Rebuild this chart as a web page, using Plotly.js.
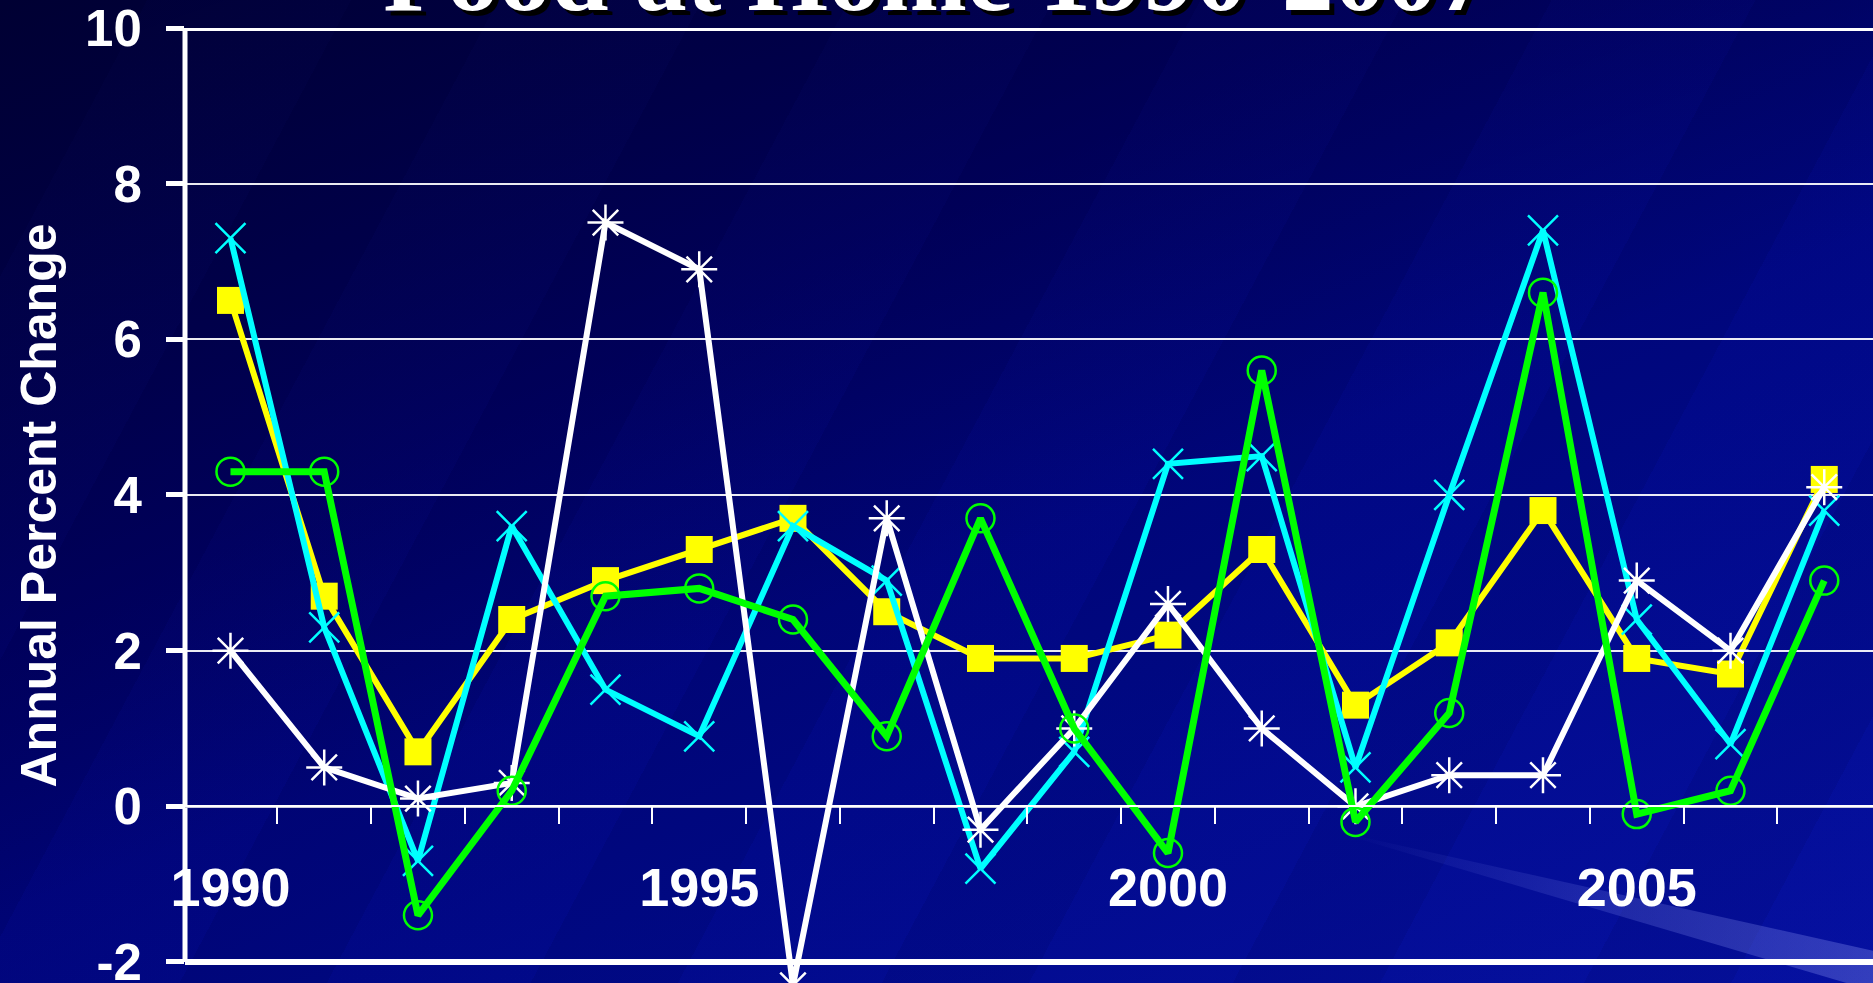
<!DOCTYPE html>
<html>
<head>
<meta charset="utf-8">
<script src="https://cdn.plot.ly/plotly-3.0.1.min.js"></script>
<style>
  html, body { margin: 0; padding: 0; width: 1873px; height: 983px; overflow: hidden; }
  body {
    position: relative;
    background:
      linear-gradient(160deg, rgba(0,0,30,0.55) 0%, rgba(0,0,30,0.25) 30%, rgba(0,0,0,0) 55%),
      repeating-linear-gradient(118deg, rgba(0,0,30,0.06) 0px, rgba(0,0,30,0.06) 130px, rgba(30,40,190,0.035) 130px, rgba(30,40,190,0.035) 310px),
      linear-gradient(155deg, #000050 0%, #00006c 35%, #000887 65%, #0510a0 100%);
  }
  #streak {
    position: absolute; left: 1345px; top: 812px; width: 620px; height: 44px;
    transform: rotate(14.5deg); transform-origin: left center;
    background: linear-gradient(to right, rgba(130,140,240,0) 0%, rgba(130,140,240,0.22) 45%, rgba(150,160,250,0.35) 100%);
    clip-path: polygon(0% 48%, 100% 0%, 100% 100%, 0% 52%);
  }
  #chart { position: absolute; left: 0; top: 0; width: 1873px; height: 983px; }
</style>
</head>
<body>
<div id="streak"></div>
<div id="chart"></div>
<script>
const years = [1990, 1991, 1992, 1993, 1994, 1995, 1996, 1997, 1998, 1999, 2000, 2001, 2002, 2003, 2004, 2005, 2006, 2007];
const yellowSeries = [6.5, 2.7, 0.7, 2.4, 2.9, 3.3, 3.7, 2.5, 1.9, 1.9, 2.2, 3.3, 1.3, 2.1, 3.8, 1.9, 1.7, 4.2];
const cyanSeries   = [7.3, 2.3, -0.7, 3.6, 1.5, 0.9, 3.6, 2.9, -0.8, 0.7, 4.4, 4.5, 0.5, 4.0, 7.4, 2.4, 0.8, 3.8];
const whiteSeries  = [2.0, 0.5, 0.1, 0.3, 7.5, 6.9, -2.3, 3.7, -0.3, 1.0, 2.6, 1.0, 0.0, 0.4, 0.4, 2.9, 2.0, 4.1];
const greenSeries  = [4.3, 4.3, -1.4, 0.2, 2.7, 2.8, 2.4, 0.9, 3.7, 1.0, -0.6, 5.6, -0.2, 1.2, 6.6, -0.1, 0.2, 2.9];
const xTickVals = [1990, 1995, 2000, 2005];
const xTickText = ['1990', '1995', '2000', '2005'];
const xMinorTickVals = [1990.5, 1991.5, 1992.5, 1993.5, 1994.5, 1995.5, 1996.5, 1997.5, 1998.5, 1999.5, 2000.5, 2001.5, 2002.5, 2003.5, 2004.5, 2005.5, 2006.5];
const yTickVals = [-2, 0, 2, 4, 6, 8, 10];
const yTickText = ['-2', '0', '2', '4', '6', '8', '10'];
const titleText = 'Food at Home 1990-2007';
const yTitleText = 'Annual Percent Change';

const yMin = -2.27, yMax = 10;

const traces = [
  { x: years, y: yellowSeries, name: 'Yellow', type: 'scatter', mode: 'lines+markers',
    line: { color: '#ffff00', width: 6 },
    marker: { symbol: 'square', size: 27, color: '#ffff00' } },
  { x: years, y: cyanSeries, name: 'Cyan', type: 'scatter', mode: 'lines+markers',
    line: { color: '#00ffff', width: 6 },
    marker: { symbol: 'x-thin-open', size: 30, color: '#00ffff', line: { color: '#00ffff', width: 2.5 } } },
  { x: years, y: whiteSeries, name: 'White', type: 'scatter', mode: 'lines+markers',
    line: { color: '#ffffff', width: 6 },
    marker: { symbol: 'asterisk-open', size: 30, color: '#ffffff', line: { color: '#ffffff', width: 2.5 } } },
  { x: years, y: greenSeries, name: 'Green', type: 'scatter', mode: 'lines+markers',
    line: { color: '#00ff00', width: 7 },
    marker: { symbol: 'circle-open', size: 28, color: '#00ff00', line: { color: '#00ff00', width: 2.5 } } }
];

const layout = {
  width: 1873, height: 983,
  margin: { l: 185, r: 0, t: 28, b: 0, pad: 0 },
  paper_bgcolor: 'rgba(0,0,0,0)',
  plot_bgcolor: 'rgba(0,0,0,0)',
  showlegend: false,
  title: {
    text: '<b>' + titleText + '</b>',
    x: 0.5, xanchor: 'center',
    y: 0.99, yref: 'container', yanchor: 'bottom',
    font: { family: 'Liberation Serif, Times New Roman, serif', size: 104, color: '#ffffff',
            shadow: '5px 5px 0px #000000' }
  },
  xaxis: {
    range: [1989.515, 2007.52],
    anchor: 'free',
    position: (0 - yMin) / (yMax - yMin),
    tickmode: 'array', tickvals: xTickVals, ticktext: xTickText,
    ticks: '', showgrid: false, zeroline: false,
    showline: true, linecolor: '#ffffff', linewidth: 2,
    ticklabelstandoff: 34,
    tickfont: { family: 'Liberation Sans, Arial, sans-serif', size: 54, color: '#ffffff', weight: 'bold' },
    minor: { tickmode: 'array', tickvals: xMinorTickVals, ticks: 'outside', ticklen: 17, tickwidth: 2, tickcolor: '#ffffff', showgrid: false },
    fixedrange: true
  },
  yaxis: {
    range: [yMin, yMax],
    tickmode: 'array', tickvals: yTickVals, ticktext: yTickText,
    ticks: 'outside', ticklen: 18, tickwidth: 5, tickcolor: '#ffffff',
    ticklabelstandoff: 14,
    ticklabeloverflow: 'allow',
    showline: false,
    showgrid: true, gridcolor: 'rgba(255,255,255,0.92)', gridwidth: 2,
    zeroline: true, zerolinecolor: '#c8c8dc', zerolinewidth: 3,
    tickfont: { family: 'Liberation Sans, Arial, sans-serif', size: 51, color: '#ffffff', weight: 'bold' },
    title: { text: yTitleText, standoff: 12,
             font: { family: 'Liberation Sans, Arial, sans-serif', size: 50, color: '#ffffff', weight: 'bold' } },
    fixedrange: true
  },
  shapes: [
    { type: 'line', xref: 'paper', yref: 'y', x0: 0, x1: 1, y0: 10, y1: 10, line: { color: '#ffffff', width: 6 }, layer: 'below' },
    { type: 'line', xref: 'paper', yref: 'y', x0: 0, x1: 1, y0: -2, y1: -2, line: { color: '#ffffff', width: 6 }, layer: 'below' },
    { type: 'line', xref: 'paper', yref: 'y', x0: 0, x1: 0, y0: -2, y1: 10, line: { color: '#ffffff', width: 5 }, layer: 'below' }
  ]
};

Plotly.newPlot('chart', traces, layout, { displayModeBar: false, staticPlot: true });
</script>
</body>
</html>
